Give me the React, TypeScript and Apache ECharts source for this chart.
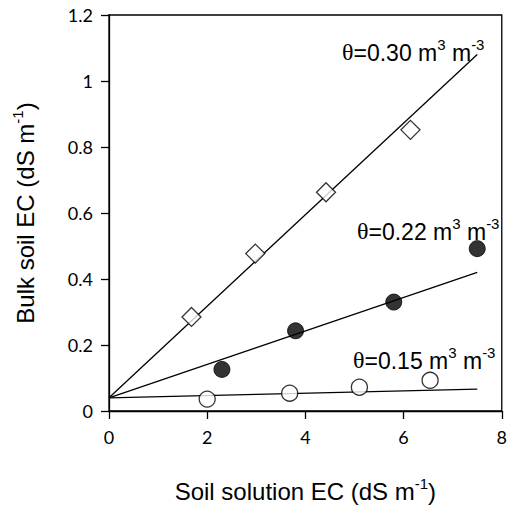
import React, { useEffect, useRef } from "react";
import * as echarts from "echarts";

const xTicks = [0, 2, 4, 6, 8];
const yTicks = [0, 0.2, 0.4, 0.6, 0.8, 1, 1.2];

// θ = 0.30 (open diamonds)
const s30 = [[1.68, 0.285], [2.98, 0.477], [4.42, 0.663], [6.14, 0.852]];
const fit30 = [[0, 0.04], [7.5, 1.08]];
// θ = 0.22 (filled circles)
const s22 = [[2.3, 0.126], [3.8, 0.243], [5.8, 0.33], [7.5, 0.492]];
const fit22 = [[0, 0.04], [7.5, 0.42]];
// θ = 0.15 (open circles)
const s15 = [[2.0, 0.036], [3.68, 0.054], [5.1, 0.072], [6.54, 0.093]];
const fit15 = [[0, 0.04], [7.5, 0.066]];

const labelTexts = ["=0.30 m", "=0.22 m", "=0.15 m"];
const labelPos = [
  [342, 36],
  [357, 215],
  [353, 344],
];

const SANS = "'Liberation Sans', Arial, sans-serif";
const TICKFONT = "Lato, 'Open Sans', sans-serif";

const annRich = {
  base: { fontFamily: SANS, fontSize: 23, color: "#000", lineHeight: 28, verticalAlign: "bottom" as const },
  th: { fontFamily: "'Liberation Serif', 'DejaVu Serif', serif", fontSize: 24, color: "#000", lineHeight: 28, verticalAlign: "bottom" as const },
  sup: { fontFamily: SANS, fontSize: 15, color: "#000", verticalAlign: "top" as const, padding: [1, 0, 0, 0] },
};

const titleRich = {
  b: { fontFamily: SANS, fontSize: 24, color: "#000", lineHeight: 28, verticalAlign: "bottom" as const },
  s: { fontFamily: SANS, fontSize: 15, color: "#000", verticalAlign: "top" as const, padding: [1, 0, 0, 0] },
};

export default function App() {
  const ref = useRef<HTMLDivElement>(null);
  useEffect(() => {
    if (!ref.current) return;
    const chart = echarts.init(ref.current, undefined, { renderer: "svg" });
    const lineStyle = { color: "#000", width: 1.3 };
    const axisCommon = {
      type: "value" as const,
      axisLine: { show: true, lineStyle: { color: "#000", width: 1.3 }, onZero: false },
      axisTick: { show: true, inside: false, length: 8, lineStyle: { color: "#000", width: 1.3 } },
      splitLine: { show: false },
      nameLocation: "middle" as const,
      nameTextStyle: { rich: titleRich },
    };
    chart.setOption({
      animation: false,
      backgroundColor: "#fff",
      grid: { left: 109, right: 1, top: 15, bottom: 93, show: true, borderColor: "#000", borderWidth: 1.3 },
      xAxis: {
        ...axisCommon,
        min: xTicks[0],
        max: xTicks[xTicks.length - 1],
        interval: 2,
        axisLabel: { color: "#000", fontSize: 18, fontFamily: TICKFONT, margin: 17 },
        name: "{b|Soil solution EC (dS m}{s|-1}{b|)}",
        nameGap: 64,
      },
      yAxis: {
        ...axisCommon,
        min: yTicks[0],
        max: yTicks[yTicks.length - 1],
        interval: 0.2,
        axisLabel: { color: "#000", fontSize: 18, fontFamily: TICKFONT, margin: 16 },
        name: "{b|Bulk soil EC (dS m}{s|-1}{b|)}",
        nameRotate: 90,
        nameGap: 72,
      },
      series: [
        { type: "line", data: fit30, symbol: "none", lineStyle, z: 1 },
        { type: "line", data: fit22, symbol: "none", lineStyle, z: 1 },
        { type: "line", data: fit15, symbol: "none", lineStyle, z: 1 },
        {
          type: "scatter", data: s30, symbol: "diamond", symbolSize: 19, z: 3,
          itemStyle: { color: "#fff", borderColor: "#000", borderWidth: 1.3 },
        },
        {
          type: "scatter", data: s22, symbol: "circle", symbolSize: 16, z: 3,
          itemStyle: { color: "#000", borderColor: "#000", borderWidth: 1 },
        },
        {
          type: "scatter", data: s15, symbol: "circle", symbolSize: 16, z: 3,
          itemStyle: { color: "#fff", borderColor: "#000", borderWidth: 1.3 },
        },
      ],
      graphic: labelTexts.map((t, i) => ({
        type: "text",
        x: labelPos[i][0],
        y: labelPos[i][1],
        z: 10,
        style: {
          text: `{th|θ}{base|${t}}{sup|3}{base| m}{sup|-3}`,
          rich: annRich,
        },
      })),
    });
    return () => chart.dispose();
  }, []);
  return <div ref={ref} style={{ position: "fixed", left: 0, top: 0, width: 510, height: 508 }} />;
}
